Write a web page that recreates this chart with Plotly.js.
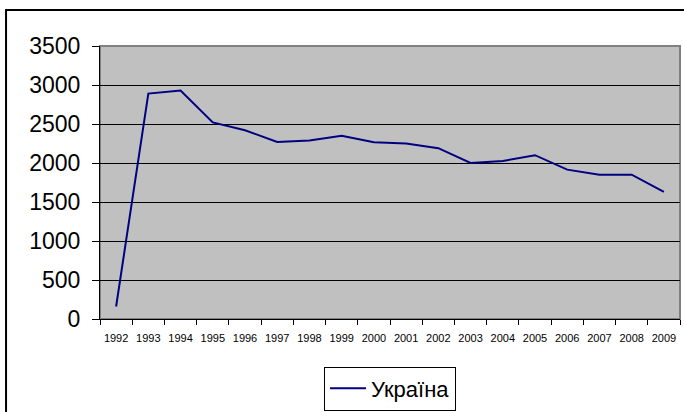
<!DOCTYPE html>
<html>
<head>
<meta charset="utf-8">
<script src="https://cdn.plot.ly/plotly-3.0.1.min.js"></script>
<style>html,body{margin:0;padding:0;background:#fff;}#chart{width:684px;height:412px;}</style>
</head>
<body>
<div id="chart"></div>
<script>
const years = ["1992","1993","1994","1995","1996","1997","1998","1999","2000","2001","2002","2003","2004","2005","2006","2007","2008","2009"];
const ukraine = [160, 2890, 2930, 2520, 2420, 2270, 2290, 2350, 2265, 2250, 2190, 2000, 2025, 2100, 1915, 1850, 1850, 1630];
const seriesName = "Україна";
const yTicks = [0, 500, 1000, 1500, 2000, 2500, 3000, 3500];

const trace = {
  x: years, y: ukraine, type: 'scatter', mode: 'lines', name: seriesName,
  line: {color: '#000080', width: 2}
};

const layout = {
  width: 684, height: 412,
  margin: {l: 100, r: 4, t: 46, b: 93, pad: 0, autoexpand: false},
  paper_bgcolor: '#ffffff', plot_bgcolor: '#c0c0c0',
  font: {family: '"Liberation Sans", Arial, sans-serif', color: '#000'},
  showlegend: true,
  legend: {
    x: 0.5, xanchor: 'center', y: -0.174, yanchor: 'top',
    bordercolor: '#000', borderwidth: 1, bgcolor: '#fff',
    font: {size: 22, color: '#000'}, itemwidth: 36
  },
  xaxis: {
    type: 'category', range: [-0.5, 17.5], tickson: 'boundaries', automargin: false,
    ticks: 'outside', ticklen: 5, tickcolor: '#000', tickwidth: 1,
    ticklabelstandoff: 9,
    showline: true, linecolor: '#000', linewidth: 1,
    showgrid: false, zeroline: false,
    tickfont: {size: 11, color: '#000'}, tickangle: 0
  },
  yaxis: {
    range: [0, 3500], tickvals: yTicks, ticktext: yTicks.map(String), automargin: false,
    ticks: 'outside', ticklen: 7, tickcolor: '#000', tickwidth: 1,
    ticklabelstandoff: 7,
    showline: true, linecolor: '#000', linewidth: 1,
    showgrid: true, gridcolor: '#000', gridwidth: 1, zeroline: false,
    tickfont: {size: 23, color: '#000'}
  },
  shapes: [
    {type: 'rect', xref: 'paper', yref: 'paper', x0: 0, x1: 1, y0: 0, y1: 1,
     line: {color: '#808080', width: 2}, layer: 'below'},
    {type: 'rect', xref: 'paper', yref: 'paper', x0: -0.162, x1: 1.2, y0: -0.6, y1: 1.132,
     line: {color: '#000', width: 2}, fillcolor: 'rgba(0,0,0,0)'}
  ]
};

Plotly.newPlot('chart', [trace], layout, {displayModeBar: false, staticPlot: true});
</script>
</body>
</html>
